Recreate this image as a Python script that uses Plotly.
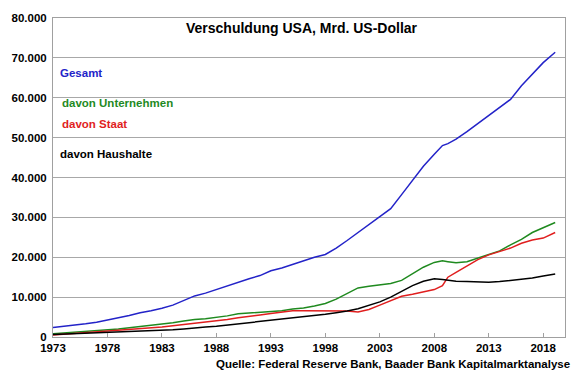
import plotly.graph_objects as go

years = [1973, 1974, 1975, 1976, 1977, 1978, 1979, 1980, 1981, 1982, 1983, 1984, 1985, 1986,
         1987, 1988, 1989, 1990, 1991, 1992, 1993, 1994, 1995, 1996, 1997, 1998, 1999, 2000,
         2001, 2002, 2003, 2004, 2005, 2006, 2007, 2008, 2008.75, 2009.25, 2010, 2011, 2012,
         2013, 2014, 2015, 2016, 2017, 2018, 2019.1]

gesamt = [2.4, 2.7, 2.9, 3.3, 3.7, 4.2, 4.8, 5.4, 6.1, 6.6, 7.2, 8.0, 9.2, 10.3,
          11.0, 11.9, 12.8, 13.8, 14.6, 15.4, 16.6, 17.3, 18.2, 19.2, 20.0, 20.7, 22.3, 24.2,
          26.2, 28.2, 30.1, 32.2, 35.7, 39.4, 42.8, 45.8, 48.0, 48.5, 49.6, 51.5, 53.5,
          55.4, 57.4, 59.6, 63.0, 65.8, 68.8, 71.4]

unternehmen = [0.8, 1.0, 1.2, 1.4, 1.5, 1.7, 2.0, 2.3, 2.6, 2.9, 3.2, 3.6, 4.0, 4.4,
               4.6, 4.9, 5.3, 5.8, 6.0, 6.1, 6.3, 6.6, 7.0, 7.3, 7.8, 8.4, 9.5, 10.9,
               12.3, 12.7, 13.1, 13.4, 14.2, 15.8, 17.5, 18.7, 19.1, 18.9, 18.6, 18.9, 19.8,
               20.8, 21.6, 23.1, 24.5, 26.2, 27.4, 28.7]

staat = [0.5, 0.7, 0.9, 1.0, 1.2, 1.4, 1.6, 1.8, 2.0, 2.2, 2.5, 2.8, 3.1, 3.4,
         3.8, 4.1, 4.4, 4.8, 5.1, 5.5, 5.9, 6.3, 6.6, 6.6, 6.6, 6.6, 6.6, 6.5,
         6.3, 6.9, 8.0, 9.2, 10.2, 10.7, 11.3, 11.9, 12.9, 15.0, 16.2, 17.9, 19.4,
         20.6, 21.4, 22.3, 23.5, 24.3, 24.8, 26.2]

haushalte = [0.6, 0.7, 0.8, 0.9, 1.0, 1.1, 1.2, 1.3, 1.4, 1.5, 1.6, 1.8, 2.0, 2.3,
             2.5, 2.7, 3.0, 3.3, 3.5, 3.8, 4.1, 4.5, 4.8, 5.1, 5.4, 5.7, 6.1, 6.5,
             7.1, 7.9, 8.8, 10.0, 11.5, 12.9, 14.0, 14.6, 14.4, 14.2, 14.0, 13.9, 13.8,
             13.7, 13.9, 14.2, 14.4, 14.8, 15.3, 15.8]

y_ticks = [0, 10000, 20000, 30000, 40000, 50000, 60000, 70000, 80000]
y_tick_labels = ["0", "10.000", "20.000", "30.000", "40.000", "50.000", "60.000", "70.000", "80.000"]
x_ticks = [1973, 1978, 1983, 1988, 1993, 1998, 2003, 2008, 2013, 2018]

series = [
    ("Gesamt", gesamt, "#2323c8"),
    ("davon Unternehmen", unternehmen, "#1f8a1f"),
    ("davon Staat", staat, "#e01e1e"),
    ("davon Haushalte", haushalte, "#000000"),
]

fig = go.Figure()
for name, vals, col in series:
    fig.add_trace(go.Scatter(x=years, y=[v * 1000 for v in vals], mode="lines", name=name,
                             line=dict(color=col, width=1.5), showlegend=False))

font_family = "Liberation Sans, Arial, sans-serif"

label_pos = [("Gesamt", 1973.45, 66200, "#2323c8"),
             ("davon Unternehmen", 1973.6, 58700, "#1f8a1f"),
             ("davon Staat", 1973.6, 53500, "#e01e1e"),
             ("davon Haushalte", 1973.45, 46000, "#000000")]
for txt, xx, yy, col in label_pos:
    fig.add_annotation(x=xx, y=yy, xref="x", yref="y", text="<b>" + txt + "</b>", showarrow=False,
                       xanchor="left", yanchor="middle", font=dict(size=11.5, color=col, family=font_family))

fig.add_annotation(x=0.487, y=77600, xref="paper", yref="y", text="<b>Verschuldung USA, Mrd. US-Dollar</b>",
                   showarrow=False, xanchor="center", yanchor="middle",
                   font=dict(size=14, color="#000000", family=font_family))

fig.add_annotation(x=1.013, y=-0.084, xref="paper", yref="paper",
                   text="<b>Quelle: Federal Reserve Bank, Baader Bank Kapitalmarktanalyse</b>",
                   showarrow=False, xanchor="right", yanchor="middle",
                   font=dict(size=11.5, color="#000000", family=font_family))

fig.update_layout(
    width=580, height=375,
    margin=dict(l=50, r=15, t=15, b=38),
    paper_bgcolor="white", plot_bgcolor="white",
    font=dict(family=font_family, color="#000000"),
    xaxis=dict(range=[1973, 2020], tickvals=x_ticks, ticktext=["<b>%d</b>" % t for t in x_ticks],
               showgrid=False, showline=True, linecolor="#a0a0a0", linewidth=1, mirror=True,
               ticks="inside", ticklen=4, tickcolor="#a0a0a0", zeroline=False,
               tickfont=dict(size=11.5, family=font_family, color="#000000")),
    yaxis=dict(range=[0, 80000], tickvals=y_ticks, ticktext=["<b>%s</b>" % t for t in y_tick_labels],
               showgrid=True, gridcolor="#a8a8a8", gridwidth=1, showline=True, linecolor="#a0a0a0",
               linewidth=1, mirror=True, zeroline=False, ticks="", ticklabelstandoff=3,
               tickfont=dict(size=11.5, family=font_family, color="#000000")),
)

fig.write_html("out.html", config={"displayModeBar": False},
               post_script="document.body.style.margin='0';")
